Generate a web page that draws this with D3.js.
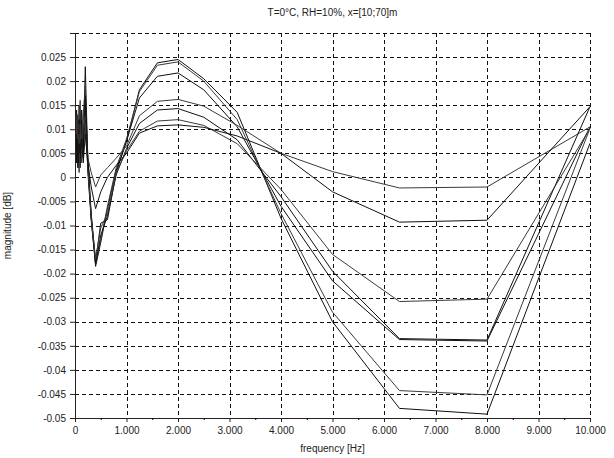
<!DOCTYPE html>
<html>
<head>
<meta charset="utf-8">
<script src="https://cdn.jsdelivr.net/npm/d3@7"></script>
<style>
  html, body { margin: 0; padding: 0; width: 100%; height: 100%; overflow: hidden; background: #fff; }
  #chart { width: 100%; height: 100%; }
  svg { display: block; }
</style>
</head>
<body>
<div id="chart"></div>
<script>
// ── Data ───────────────────────────────────────────────────
var freqs = [20, 25, 31.5, 40, 50, 63, 80, 100, 125, 160, 200, 250, 315, 400,
  500, 630, 800, 1000, 1250, 1600, 2000, 2500, 3150, 4000, 5000, 6300, 8000, 10000];

var curve1 = [0.012, 0.004, 0.010, 0.003, 0.013, 0.006, 0.015, 0.004, 0.011, 0.006, 0.023, 0.003, -0.0085, -0.0185,
  -0.0135, -0.0065, 0.0015, 0.0075, 0.0182, 0.0238, 0.0245, 0.0205, 0.0135, -0.0085, -0.0300, -0.0480, -0.0492, 0.0071];
var curve2 = [0.009, 0.013, 0.005, 0.011, 0.002, 0.012, 0.005, 0.016, 0.003, 0.013, 0.019, 0.002, -0.0080, -0.0180,
  -0.0130, -0.0060, 0.0020, 0.0080, 0.0178, 0.0233, 0.0240, 0.0200, 0.0120, -0.0075, -0.0280, -0.0443, -0.0452, 0.0102];
var curve3 = [0.004, 0.010, 0.014, 0.006, 0.010, 0.002, 0.012, 0.007, 0.014, 0.004, 0.017, 0.004, -0.0075, -0.0175,
  -0.0095, -0.0088, 0.0010, 0.0075, 0.0165, 0.0210, 0.0217, 0.0182, 0.0105, -0.0060, -0.0215, -0.0337, -0.0340, 0.0105];
var curve4 = [0.010, 0.006, 0.012, 0.008, 0.005, 0.011, 0.003, 0.009, 0.006, 0.010, 0.012, 0.004, 0.0010, -0.0020,
  0.0005, 0.0020, 0.0040, 0.0065, 0.0128, 0.0158, 0.0162, 0.0148, 0.0108, 0.0050, 0.0012, -0.0022, -0.0020, 0.0105];
var curve5 = [0.006, 0.011, 0.003, 0.009, 0.012, 0.004, 0.010, 0.002, 0.012, 0.005, 0.015, 0.001, -0.0090, -0.0180,
  -0.0120, -0.0080, 0.0005, 0.0060, 0.0112, 0.0140, 0.0143, 0.0125, 0.0078, -0.0040, -0.0195, -0.0335, -0.0338, 0.0147];
var curve6 = [0.011, 0.007, 0.009, 0.013, 0.004, 0.009, 0.001, 0.011, 0.005, 0.014, 0.010, 0.002, -0.0085, -0.0170,
  -0.0105, -0.0075, 0.0010, 0.0055, 0.0096, 0.0117, 0.0120, 0.0108, 0.0070, -0.0025, -0.0160, -0.0258, -0.0253, 0.0102];
var curve7 = [0.005, 0.009, 0.006, 0.004, 0.008, 0.003, 0.007, 0.005, 0.008, 0.003, 0.009, 0.003, -0.0020, -0.0065,
  -0.0030, 0.0000, 0.0025, 0.0050, 0.0092, 0.0107, 0.0109, 0.0104, 0.0086, 0.0050, -0.0030, -0.0093, -0.0089, 0.0147];

var curves = [curve1, curve2, curve3, curve4, curve5, curve6, curve7];

var xTicks = [0, 1000, 2000, 3000, 4000, 5000, 6000, 7000, 8000, 9000, 10000];
var xTickLabels = ["0", "1.000", "2.000", "3.000", "4.000", "5.000", "6.000", "7.000", "8.000", "9.000", "10.000"];
var yTicks = [-0.05, -0.045, -0.04, -0.035, -0.03, -0.025, -0.02, -0.015, -0.01, -0.005, 0,
  0.005, 0.01, 0.015, 0.02, 0.025, 0.03];

var title = "T=0°C, RH=10%, x=[10;70]m";
var xLabel = "frequency [Hz]";
var yLabel = "magnitude [dB]";

// ── Layout ─────────────────────────────────────────────────
var width = 614, height = 458;
var margin = { top: 33, right: 24, bottom: 40, left: 75 };
var innerWidth = width - margin.left - margin.right;
var innerHeight = height - margin.top - margin.bottom;
var font = "'Liberation Sans', Arial, sans-serif";
var ink = "#222";

// viewBox keeps everything inside the window whatever its size
var svg = d3.select("#chart")
  .append("svg")
  .attr("width", "100%")
  .attr("height", "100%")
  .attr("viewBox", "0 0 " + width + " " + height)
  .attr("preserveAspectRatio", "xMidYMid meet")
  .attr("font-family", font)
  .attr("font-size", 10);

var g = svg.append("g")
  .attr("transform", "translate(" + margin.left + "," + margin.top + ")");

var x = d3.scaleLinear().domain([0, 10000]).range([0, innerWidth]);
var y = d3.scaleLinear().domain([-0.05, 0.03]).range([innerHeight, 0]);

// Grid (dashed), including top and right frame
g.append("g")
  .selectAll("line")
  .data(xTicks.slice(1))
  .join("line")
  .attr("x1", function (d) { return Math.round(x(d)) + 0.5; })
  .attr("x2", function (d) { return Math.round(x(d)) + 0.5; })
  .attr("y1", 0)
  .attr("y2", innerHeight)
  .attr("stroke", "#111")
  .attr("stroke-dasharray", "4,3");

g.append("g")
  .selectAll("line")
  .data(yTicks.slice(1))
  .join("line")
  .attr("x1", 0)
  .attr("x2", innerWidth)
  .attr("y1", function (d) { return Math.round(y(d)) + 0.5; })
  .attr("y2", function (d) { return Math.round(y(d)) + 0.5; })
  .attr("stroke", "#111")
  .attr("stroke-dasharray", "4,3");

// Curves
var line = d3.line()
  .x(function (d, i) { return x(freqs[i]); })
  .y(function (d) { return y(d); });

g.append("g")
  .selectAll("path")
  .data(curves)
  .join("path")
  .attr("d", line)
  .attr("fill", "none")
  .attr("stroke", function (d, i) { return i % 2 ? "#3a3a3a" : "#111"; })
  .attr("stroke-width", 1);

// Axes
var xAxis = g.append("g")
  .attr("transform", "translate(0," + innerHeight + ")")
  .call(d3.axisBottom(x).tickValues(xTicks).tickSize(4).tickPadding(5)
    .tickFormat(function (d, i) { return xTickLabels[i]; }));

g.append("g")
  .attr("transform", "translate(0," + innerHeight + ")")
  .call(d3.axisBottom(x).tickValues(d3.range(500, 10000, 1000)).tickSize(2).tickFormat(""))
  .call(function (a) { a.select(".domain").remove(); });

var yAxis = g.append("g")
  .call(d3.axisLeft(y).tickValues(yTicks).tickSize(5).tickPadding(4)
    .tickFormat(function (d) { return d === 0.03 ? "" : String(+d.toFixed(3)); }));

[xAxis, yAxis].forEach(function (a) {
  a.selectAll("text").attr("fill", ink).attr("font-size", 10).attr("font-family", font);
  a.selectAll("line").attr("stroke", ink);
  a.select(".domain").attr("stroke", ink);
});

// Titles
svg.append("text")
  .attr("x", margin.left + innerWidth / 2)
  .attr("y", 16)
  .attr("text-anchor", "middle")
  .attr("fill", ink)
  .text(title);

svg.append("text")
  .attr("x", margin.left + innerWidth / 2)
  .attr("y", 452)
  .attr("text-anchor", "middle")
  .attr("fill", ink)
  .text(xLabel);

svg.append("text")
  .attr("transform", "rotate(-90)")
  .attr("x", -(margin.top + innerHeight / 2))
  .attr("y", 11)
  .attr("text-anchor", "middle")
  .attr("fill", ink)
  .text(yLabel);
</script>
</body>
</html>
